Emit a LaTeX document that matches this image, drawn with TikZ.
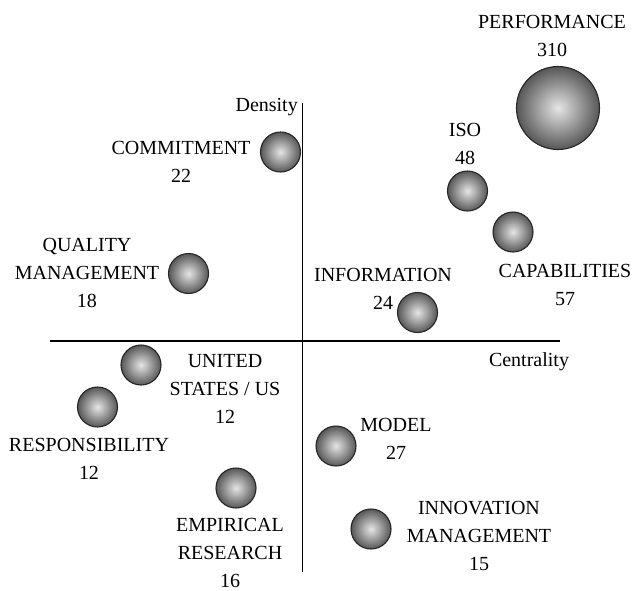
\documentclass[tikz,border=0pt]{standalone}
\usepackage{fontspec}
\setmainfont{Liberation Serif}

\def\fsize{20}

\begin{document}
\begin{tikzpicture}[x=1pt, y=-1pt,
    bubble/.style={circle, draw=black!85, line width=1.1pt, inner sep=0pt,
      minimum size=40pt, shading=radial, inner color=black!10, outer color=black!66},
    lbl/.style={anchor=base, align=center, inner sep=0pt,
      font=\fontsize{\fsize}{28}\selectfont}]
      \useasboundingbox (0,0) rectangle (632,590);
      % axes
      \coordinate (xl) at (50,341);
      \coordinate (xr) at (560,341);
      \coordinate (yt) at (302.5,103);
      \coordinate (yb) at (302.5,572);
      \draw[line width=1.1pt] (xl) -- (xr);
      \draw[line width=1.1pt] (yt) -- (yb);
      \node[lbl, anchor=base east] (dens) at (298,111) {Density};
      \node[lbl] (cent) at (529,366) {Centrality};
      % themes
      \node[bubble, minimum size=83pt] (perf) at (558,108) {};
      \node[bubble] (iso) at (467.5,191) {};
      \node[bubble] (capab) at (513,232) {};
      \node[bubble] (commit) at (280.5,152) {};
      \node[bubble] (qual) at (188.5,273.5) {};
      \node[bubble] (info) at (417.5,312.5) {};
      \node[bubble] (us) at (141,365) {};
      \node[bubble] (resp) at (97.5,407) {};
      \node[bubble] (empir) at (236,488) {};
      \node[bubble] (model) at (336,446) {};
      \node[bubble] (innov) at (371,529) {};
      % labels (anchored at the baseline of the last line)
      \node[lbl] (perf-l) at (552,56.5) {PERFORMANCE\\310};
      \node[lbl] (iso-l) at (465,164.5) {ISO\\48};
      \node[lbl] (capab-l) at (565,305) {CAPABILITIES\\57};
      \node[lbl] (commit-l) at (181,182) {COMMITMENT\\22};
      \node[lbl] (qual-l) at (87,307.5) {QUALITY\\MANAGEMENT\\18};
      \node[lbl] (info-l) at (383,309) {INFORMATION\\24};
      \node[lbl] (us-l) at (225,423.5) {UNITED\\STATES / US\\12};
      \node[lbl] (resp-l) at (89,479.5) {RESPONSIBILITY\\12};
      \node[lbl] (empir-l) at (230,587) {EMPIRICAL\\RESEARCH\\16};
      \node[lbl] (model-l) at (396,459.5) {MODEL\\27};
      \node[lbl] (innov-l) at (479,570) {INNOVATION\\MANAGEMENT\\15};
    \end{tikzpicture}
\end{document}
